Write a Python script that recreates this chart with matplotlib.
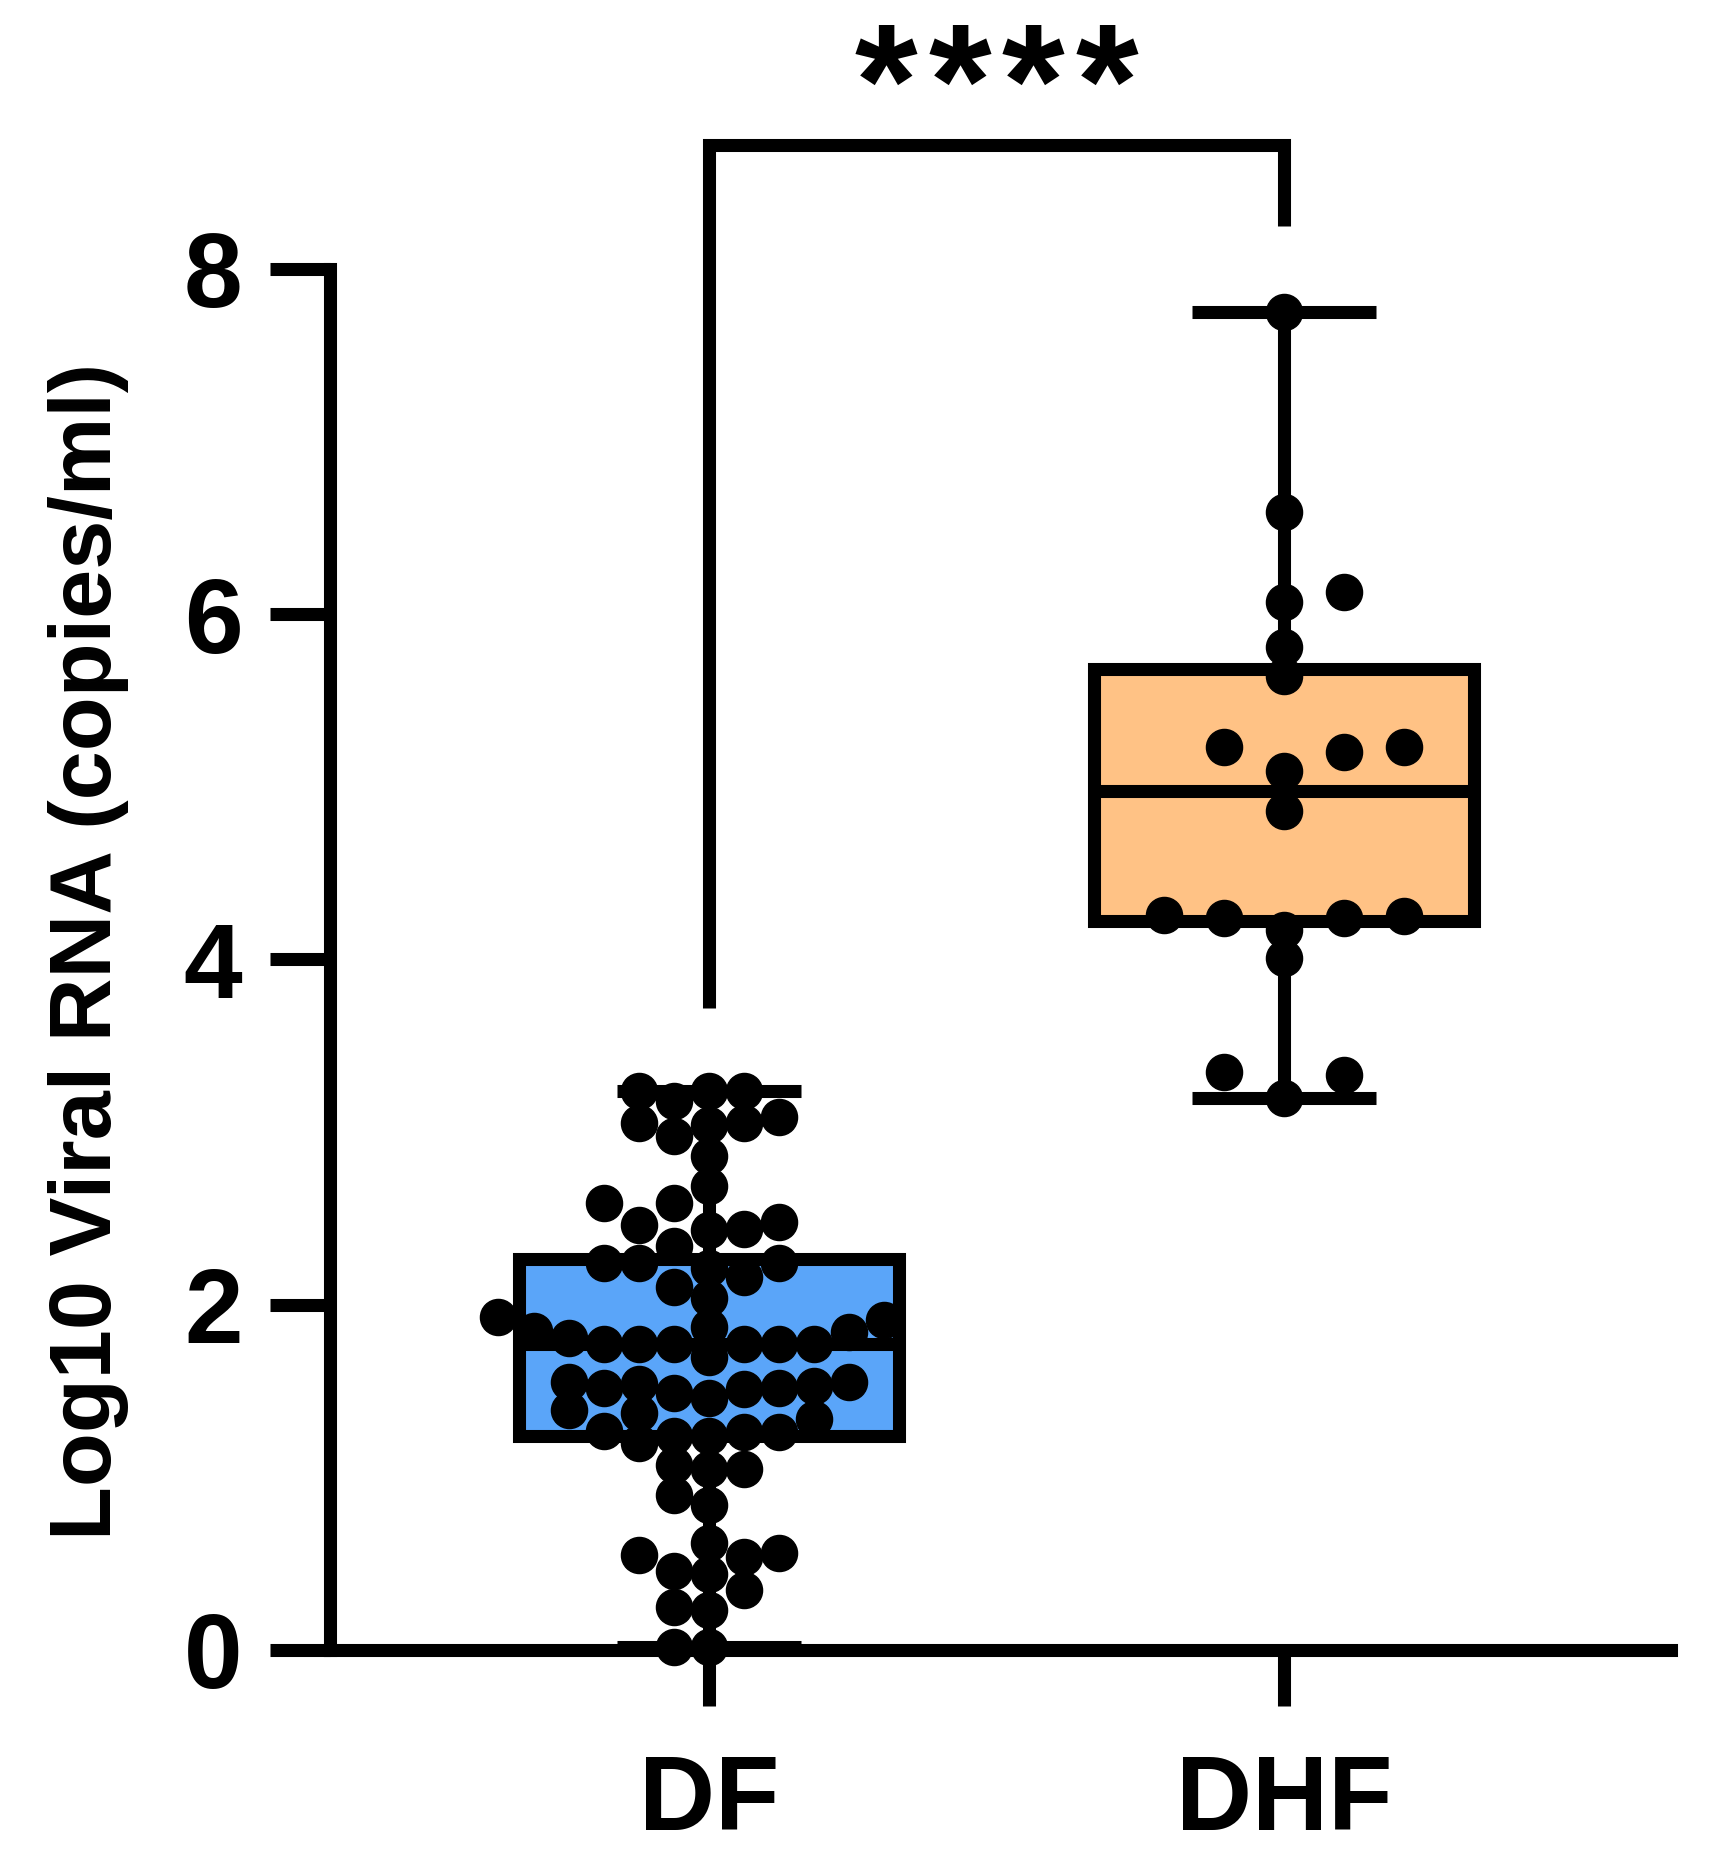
import numpy as np
import matplotlib
matplotlib.use("Agg")
import matplotlib.pyplot as plt

plt.rcParams['font.family'] = ['Liberation Sans', 'DejaVu Sans']
plt.rcParams['font.weight'] = 'bold'

# values (log10 copies/ml)
groups = ["DF", "DHF"]
df_vals = [
    3.24, 3.24, 3.24, 3.18, 3.09, 3.05, 3.04, 3.05, 2.98, 2.86,
    2.69, 2.59, 2.59, 2.48, 2.44, 2.43, 2.46, 2.34, 2.24, 2.16,
    2.24, 2.21, 2.24, 2.10, 2.04, 1.91, 1.93, 1.85, 1.87, 1.84,
    1.81, 1.77, 1.77, 1.77, 1.77, 1.77, 1.77, 1.70, 1.55, 1.55,
    1.53, 1.54, 1.51, 1.52, 1.49, 1.46, 1.52, 1.34, 1.39, 1.37,
    1.20, 1.24, 1.26, 1.24, 1.26, 1.27, 1.05, 1.07, 1.05, 0.84,
    0.90, 0.62, 0.55, 0.56, 0.54, 0.46, 0.44, 0.35, 0.25, 0.23,
    0.02, 0.02,
]
dhf_vals = [
    7.75, 6.59, 6.13, 6.07, 5.81, 5.64, 5.20, 5.23, 5.23, 5.09,
    4.86, 4.17, 4.26, 4.24, 4.25, 4.24, 4.01, 3.35, 3.33, 3.20,
]
box_colors = ["#5AA5F9", "#FFC285"]
yticks = [0, 2, 4, 6, 8]
stars = "****"

LW = 9.4          # line width (pt) used for everything
DOT = 26          # marker diameter (pt)


def swarm_columns(values, min_gap, first=-1):
    """Column index per point: lowest values first, nearest free column to the centre."""
    values = np.asarray(values, dtype=float)
    cols = np.zeros(len(values))
    placed = {}
    order = [0]
    for k in range(1, 30):
        order += [first * k, -first * k]
    for i in np.argsort(values, kind="stable"):
        v = values[i]
        for c in order:
            if all(abs(v - y) >= min_gap for y in placed.get(c, [])):
                break
        placed.setdefault(c, []).append(v)
        cols[i] = c
    return cols


fig = plt.figure(figsize=(17.17, 18.51), dpi=100)
ax = fig.add_axes([0.1922, 0.1086, 0.781, 0.7461])

data = [np.array(df_vals), np.array(dhf_vals)]
pos = np.arange(len(groups))

bp = ax.boxplot(data, positions=pos, widths=0.66, whis=(0, 100), patch_artist=True,
                showfliers=False, capwidths=0.32,
                boxprops=dict(linewidth=LW, edgecolor="black"),
                medianprops=dict(linewidth=LW, color="black"),
                whiskerprops=dict(linewidth=LW, color="black", solid_capstyle="butt"),
                capprops=dict(linewidth=LW, color="black", solid_capstyle="butt"))
for patch, col in zip(bp["boxes"], box_colors):
    patch.set_facecolor(col)
    patch.set_joinstyle("miter")

# dots: column spacing (data x units) differs per group, as in the reference
spacing = [0.061, 0.104]
first_side = [-1, 1]
for p, vals, sp, fs in zip(pos, data, spacing, first_side):
    cols = swarm_columns(vals, 0.16, fs)
    ax.plot(p + cols * sp, vals, "o", ms=DOT, color="black", mec="black",
            linestyle="none", clip_on=False, zorder=5)

# significance bracket
ax.plot([0, 0, 1, 1], [3.72, 8.72, 8.72, 8.25], color="black", lw=LW,
        clip_on=False, solid_joinstyle="miter", solid_capstyle="butt")
mid = pos.mean()
for i, ch in enumerate(stars):
    ax.text(mid + (i - (len(stars) - 1) / 2) * 0.128, 8.77, ch, ha="center",
            va="baseline", fontsize=116, fontweight="bold", clip_on=False)

ax.set_xlim(-0.659, 1.673)
ax.set_ylim(0, 8)
ax.set_yticks(yticks)
ax.set_xticks(pos)
ax.set_xticklabels(groups)

for s in ["top", "right"]:
    ax.spines[s].set_visible(False)
for s in ["left", "bottom"]:
    ax.spines[s].set_linewidth(LW)
    ax.spines[s].set_capstyle("projecting")

ax.tick_params(axis="y", length=43, width=LW, pad=20, labelsize=76)
ax.tick_params(axis="x", length=40, width=LW, pad=34, labelsize=76)

fig.text(0.0513, 0.486, "Log10 Viral RNA (copies/ml)", rotation=90,
         ha="center", va="center", fontsize=63.5, fontweight="bold")

fig.savefig("out.png", dpi=100)
